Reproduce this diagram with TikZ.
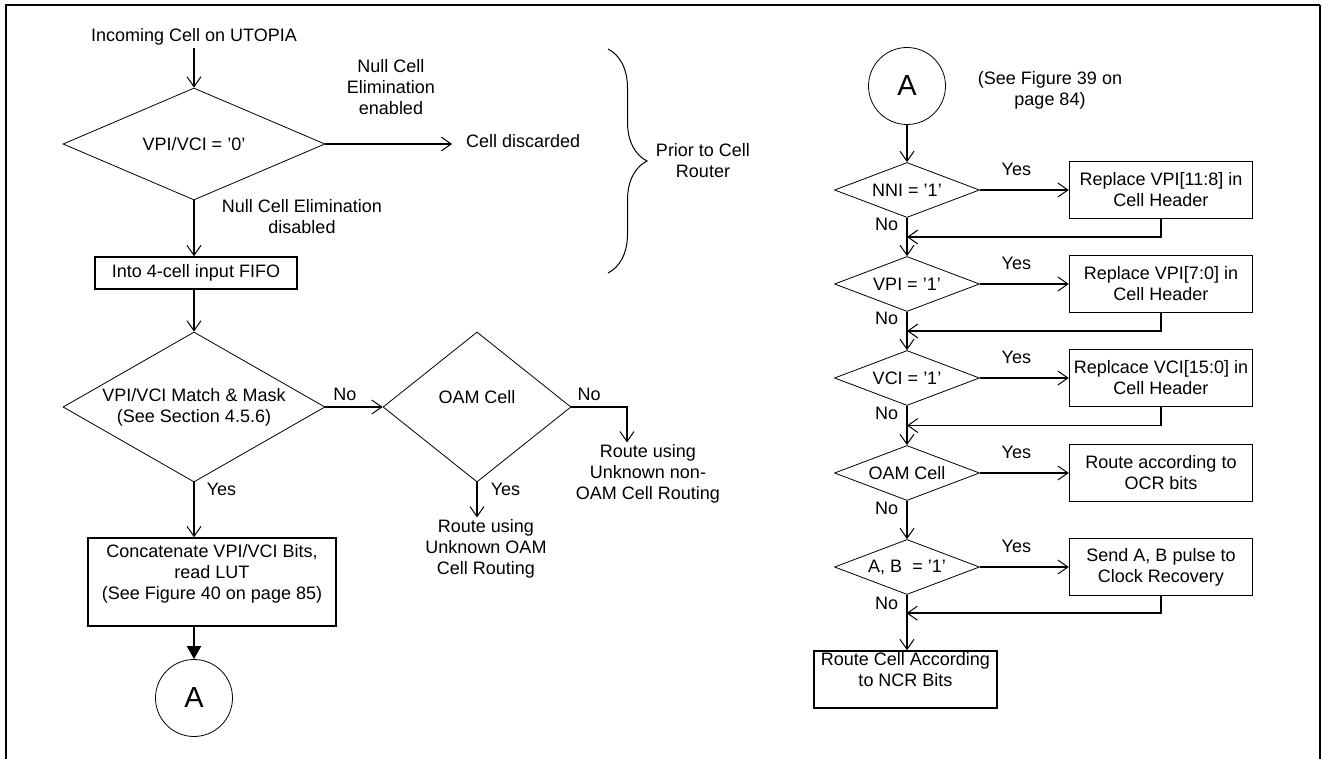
\documentclass[tikz,border=0pt]{standalone}
\usepackage{fontspec}
\setmainfont{Liberation Sans}
\usetikzlibrary{positioning,arrows.meta,shapes.geometric,calc,decorations.pathreplacing}
\tikzset{
	box/.style={draw, line width=1.5pt, align=center, inner sep=0pt},
	rbox/.style={box, minimum width=183pt, minimum height=57pt},
	decision/.style={diamond, draw, line width=0.8pt, align=center, inner sep=0pt},
	rdecision/.style={decision, minimum width=145pt, minimum height=55pt, aspect=2.64},
	conn/.style={circle, draw, line width=0.8pt, minimum size=77pt, inner sep=0pt,
		font=\fontsize{29}{30}\selectfont},
	flow/.style={-{Straight Barb[length=10pt,width=14pt,line width=1pt]}, line width=1.6pt},
	flowbold/.style={-{Triangle[length=13pt,width=14pt]}, line width=2pt},
	caption/.style={align=center, inner sep=2pt},
	yn/.style={inner sep=2pt},
}
\begin{document}
\begin{tikzpicture}[x=1pt, y=-1pt, font=\fontsize{18}{21}\selectfont]
	\useasboundingbox (0,0) rectangle (1323,759);
	
	% ================= Frame =================
	\draw[line width=2.5pt] (6,759) -- (6,5) -- (1320,5);
	\draw[line width=1.2pt] (1320,5) -- (1320,759);
	
	% ================= Left: before the cell router =================
	\node[caption] (in) at (194,37) {Incoming Cell on UTOPIA};
	\node[decision, minimum width=262pt, minimum height=112pt, aspect=2.34] (null) at (194,144)
	{VPI/VCI = '0'};
	\node[caption, anchor=west] (disc) at (464,141) {Cell discarded};
	\node[caption] (en) at (391,87) {Null Cell\\Elimination\\enabled};
	\node[caption] (dis) at (302,217) {Null Cell Elimination\\disabled};
	\node[box, minimum width=202pt, minimum height=32pt] (fifo) at (196,273)
	{Into 4-cell input FIFO};
	
	\draw[flow] (in) -- (null.north);
	\draw[flow] (null.east) -- ([xshift=-12pt]null.east -| disc.west);
	\draw[flow] (null.south) -- (null.south |- fifo.north);
	
	% Brace
	\draw[line width=1pt, decorate, decoration={brace, amplitude=39pt}] (608,49) -- (608,273);
	\node[caption] (prior) at (703,161) {Prior to Cell\\Router};
	
	% ================= Left: match & mask =================
	\node[decision, minimum width=262pt, minimum height=150pt, aspect=1.75] (match) at (194,407)
	{VPI/VCI Match \& Mask\\(See Section 4.5.6)};
	\node[decision, minimum width=188pt, minimum height=150pt, aspect=1.25] (oam) at (477,407)
	{OAM Cell\\~};
	\node[caption] (unkoam) at (486,549) {Route using\\Unknown OAM\\Cell Routing};
	\node[caption] (nonoam) at (648,474) {Route using\\Unknown non-\\OAM Cell Routing};
	\node[box, minimum width=248pt, minimum height=88pt] (lut) at (212,582)
	{Concatenate VPI/VCI Bits,\\read LUT\\(See Figure 40 on page 85)\\~};
	\node[conn] (conA) at (194,698) {A};
	
	\draw[flow] (match.north |- fifo.south) -- (match.north);
	\draw[flow] (match.east) -- node[yn, pos=0.34, above=3.5pt] {No} (oam.west);
	\draw[flow] (oam.east) -| node[yn, pos=0.16, above=3.5pt] {No} ([xshift=-21pt]nonoam.north);
	\draw[flow] (oam.south) -- node[yn, pos=0.2, right=11pt] {Yes} (oam.south |- unkoam.north);
	\draw[flow] (match.south) -- node[yn, pos=0.13, right=10pt] {Yes} (match.south |- lut.north);
	\draw[flowbold] (conA.north |- lut.south) -- (conA.north);
	
	% ================= Right: cell router =================
	\node[conn] (conB) at (907,86) {A};
	\node[caption] (fig39) at (1050,90) {(See Figure 39 on\\page 84)};
	
	\node[rdecision] (nni) at (907,190) {NNI = '1'};
	\node[rdecision] (vpi) at (907,284) {VPI = '1'};
	\node[rdecision] (vci) at (907,378) {VCI = '1'};
	\node[rdecision] (oamr) at (907,473) {OAM Cell};
	\node[rdecision] (ab) at (907,567) {A, B\ \ = '1'};
	
	\node[rbox] (rep1) at (1161,190) {Replace VPI[11:8] in\\Cell Header};
	\node[rbox] (rep2) at (1161,284) {Replace VPI[7:0] in\\Cell Header};
	\node[rbox] (rep3) at (1161,378) {Replcace VCI[15:0] in\\Cell Header};
	\node[rbox] (ocr) at (1161,473) {Route according to\\OCR bits};
	\node[rbox] (clk) at (1161,567) {Send A, B pulse to\\Clock Recovery};
	\node[box, minimum width=183pt, minimum height=57pt] (ncr) at (905.5,679.5)
	{Route Cell According\\to NCR Bits\\~};
	
	% Return points on the main line
	\coordinate (j1) at ($(nni.south)!0.5!(vpi.north)$);
	\coordinate (j2) at ($(vpi.south)!0.5!(vci.north)$);
	\coordinate (j3) at ($(vci.south)!0.5!(oamr.north)$);
	\coordinate (j5) at ($(ab.south)!0.33!(ncr.north)$);
	
	\draw[flow] (conB) -- (nni.north);
	\draw[flow] (nni.south) -- node[yn, pos=0.18, left=6pt] {No} (vpi.north);
	\draw[flow] (vpi.south) -- node[yn, pos=0.18, left=6pt] {No} (vci.north);
	\draw[flow] (vci.south) -- node[yn, pos=0.18, left=6pt] {No} (oamr.north);
	\draw[flow] (oamr.south) -- node[yn, pos=0.19, left=6pt] {No} (ab.north);
	\draw[flow] (ab.south) -- node[yn, pos=0.15, left=6pt] {No} (ab.south |- ncr.north);
	
	\foreach \d/\b in {nni/rep1, vpi/rep2, vci/rep3, oamr/ocr, ab/clk}
	\draw[flow] (\d.east) -- node[yn, pos=0.41, above=12pt] {Yes} (\b.west);
	\foreach \b/\j in {rep1/j1, rep2/j2, rep3/j3, clk/j5}
	\draw[flow] (\b.south) |- (\j);
	
\end{tikzpicture}
\end{document}
